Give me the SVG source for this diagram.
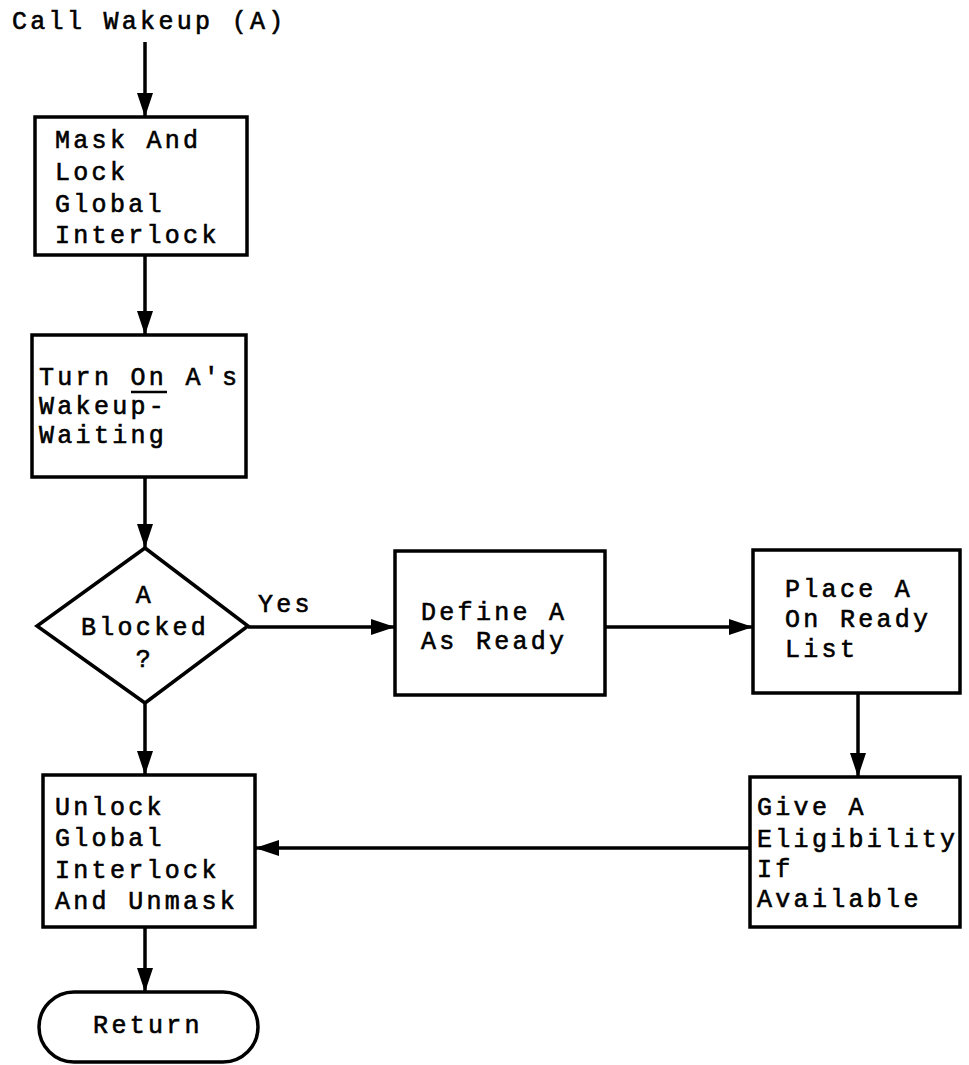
<svg xmlns="http://www.w3.org/2000/svg" width="969" height="1065" viewBox="0 0 969 1065">
<style>
.b{fill:#fff;stroke:#000;stroke-width:3.5}
.c{fill:none;stroke:#000;stroke-width:3.5}
text{font-family:"Liberation Mono","DejaVu Sans Mono",monospace;font-size:25px;letter-spacing:3.3px;fill:#000;stroke:#000;stroke-width:0.6}
.m{text-anchor:middle}
</style>
<defs>
<marker id="ah" markerUnits="userSpaceOnUse" markerWidth="24" markerHeight="16" refX="24" refY="8" orient="auto">
<path d="M0,0 L24,8 L0,16 z" fill="#000"/>
</marker>
</defs>
<rect width="969" height="1065" fill="#fff"/>
<g id="connectors">
<line class="c" x1="145" y1="42" x2="145" y2="117" marker-end="url(#ah)"/>
<line class="c" x1="145" y1="255" x2="145" y2="335" marker-end="url(#ah)"/>
<line class="c" x1="145" y1="477" x2="145" y2="548" marker-end="url(#ah)"/>
<line class="c" x1="145" y1="703" x2="145" y2="775" marker-end="url(#ah)"/>
<line class="c" x1="145" y1="927" x2="145" y2="992" marker-end="url(#ah)"/>
<line class="c" x1="248" y1="627" x2="395" y2="627" marker-end="url(#ah)"/>
<line class="c" x1="605" y1="627" x2="753" y2="627" marker-end="url(#ah)"/>
<line class="c" x1="858" y1="693" x2="858" y2="777" marker-end="url(#ah)"/>
<line class="c" x1="750" y1="848" x2="255" y2="848" marker-end="url(#ah)"/>
<text x="258" y="612">Yes</text>
</g>
<g id="start">
<text x="12" y="29">Call Wakeup (A)</text>
</g>
<g id="mask">
<rect class="b" x="35" y="117" width="212" height="138"/>
<text x="55" y="148">Mask And<tspan x="55" y="180">Lock</tspan><tspan x="55" y="212">Global</tspan><tspan x="55" y="243">Interlock</tspan></text>
</g>
<g id="turnon">
<rect class="b" x="32" y="335" width="214" height="142"/>
<text x="39" y="385">Turn On A's<tspan x="39" y="414">Wakeup-</tspan><tspan x="39" y="443">Waiting</tspan></text>
<line x1="131" y1="392" x2="167" y2="392" stroke="#000" stroke-width="2.5"/>
</g>
<g id="blocked">
<polygon class="b" points="145,548 248,626 145,703 37,626"/>
<text class="m" x="145" y="603">A<tspan x="145" y="635">Blocked</tspan><tspan x="145" y="667">?</tspan></text>
</g>
<g id="define">
<rect class="b" x="395" y="551" width="210" height="144"/>
<text x="421" y="620">Define A<tspan x="421" y="649">As Ready</tspan></text>
</g>
<g id="place">
<rect class="b" x="753" y="550" width="207" height="143"/>
<text x="785" y="597">Place A<tspan x="785" y="627">On Ready</tspan><tspan x="785" y="657">List</tspan></text>
</g>
<g id="give">
<rect class="b" x="750" y="777" width="210" height="150"/>
<text x="757" y="815">Give A<tspan x="757" y="847">Eligibility</tspan><tspan x="757" y="877">If</tspan><tspan x="757" y="907">Available</tspan></text>
</g>
<g id="unlock">
<rect class="b" x="43" y="775" width="212" height="152"/>
<text x="55" y="815">Unlock<tspan x="55" y="846">Global</tspan><tspan x="55" y="878">Interlock</tspan><tspan x="55" y="909">And Unmask</tspan></text>
</g>
<g id="return">
<rect class="b" x="39" y="992" width="219" height="70" rx="35" ry="35"/>
<text class="m" x="148" y="1033">Return</text>
</g>
</svg>
